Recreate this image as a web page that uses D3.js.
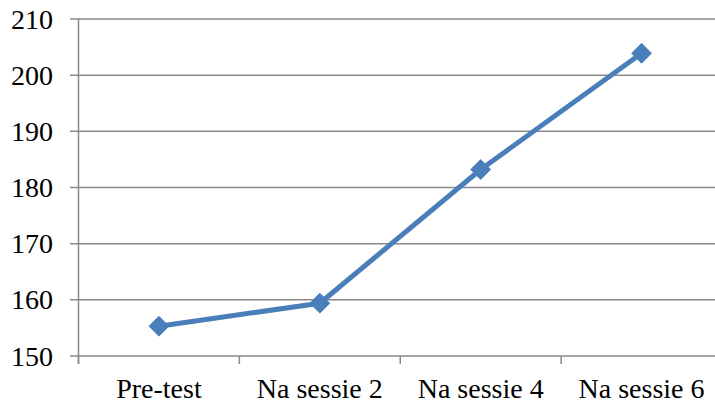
<!DOCTYPE html>
<html><head><meta charset="utf-8">
<script src="https://cdn.jsdelivr.net/npm/d3@7"></script>
<style>body{margin:0;background:#fff}svg{display:block}
text{font-family:"Liberation Serif","DejaVu Serif",serif;font-size:28px;fill:#000}</style>
</head><body>
<svg id="c" width="715" height="403"></svg>
<script>
const categories = ["Pre-test", "Na sessie 2", "Na sessie 4", "Na sessie 6"];
const values = [155.3, 159.4, 183.2, 203.9];
const yTicks = [150, 160, 170, 180, 190, 200, 210];

const svg = d3.select("#c");
const L = 78.5, R = 722, T = 19, B = 356;
const x = d3.scaleBand().domain(categories).range([L, R]);
const y = d3.scaleLinear().domain([150, 210]).range([B, T]);
const grey = "#898989";

svg.append("g").selectAll("line").data(yTicks).join("line")
  .attr("x1", 70).attr("x2", 715)
  .attr("y1", d => y(d)).attr("y2", d => y(d))
  .attr("stroke", grey).attr("stroke-width", 1.5);

svg.append("line").attr("x1", L).attr("x2", L).attr("y1", T).attr("y2", B + 8)
  .attr("stroke", grey).attr("stroke-width", 1.5);

const bounds = categories.map(c => x(c)).concat([R]);
svg.append("g").selectAll("line").data(bounds).join("line")
  .attr("x1", d => d).attr("x2", d => d)
  .attr("y1", B).attr("y2", B + 8)
  .attr("stroke", grey).attr("stroke-width", 1.5);

svg.append("g").selectAll("text").data(yTicks).join("text")
  .attr("x", 53).attr("y", d => y(d)).attr("dy", "0.34em")
  .attr("text-anchor", "end")
  .text(d => d);

svg.append("g").selectAll("text").data(categories).join("text")
  .attr("x", d => x(d) + x.bandwidth() / 2).attr("y", 398)
  .attr("text-anchor", "middle")
  .text(d => d);

const pts = categories.map((c, i) => [x(c) + x.bandwidth() / 2, y(values[i])]);
const blue = "#4a7ebb";
svg.append("path").attr("d", d3.line()(pts))
  .attr("fill", "none").attr("stroke", blue).attr("stroke-width", 5)
  .attr("stroke-linejoin", "round").attr("stroke-linecap", "round");

svg.append("g").selectAll("path").data(pts).join("path")
  .attr("transform", d => `translate(${d[0]},${d[1]})`)
  .attr("d", d3.symbol().type(d3.symbolDiamond2).size(250)())
  .attr("fill", blue).attr("stroke", blue).attr("stroke-width", 1);
</script>
</body></html>
